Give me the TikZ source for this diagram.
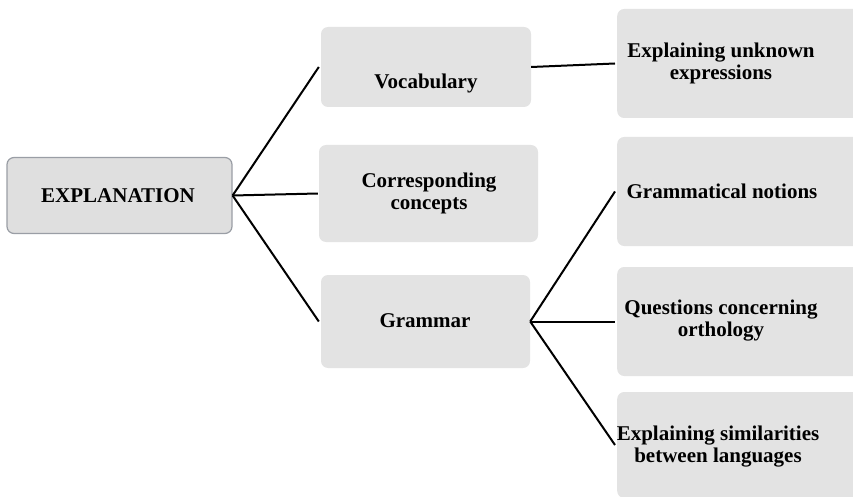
\documentclass[tikz,border=0pt]{standalone}
\usepackage{fontspec}
\setmainfont{Liberation Serif}
\begin{document}
\begin{tikzpicture}[x=1pt,y=-1pt,
  box/.style={draw=none,fill=boxgray,rounded corners=7pt,inner sep=0pt},
  rootbox/.style={draw=rootedge,line width=1.2pt,fill=rootgray,rounded corners=7pt,inner sep=0pt},
  txt/.style={font=\fontsize{21}{22}\selectfont\bfseries,align=center,inner sep=0pt,text=black},
  link/.style={draw=black,line width=2pt}]
\definecolor{boxgray}{HTML}{E3E3E3}
\definecolor{rootgray}{HTML}{DFDFDF}
\definecolor{rootedge}{HTML}{9A9EA5}
\useasboundingbox (0,0) rectangle (853,497);
\clip (0,0) rectangle (853,497);
% boxes
\node[rootbox,minimum width=225pt,minimum height=76pt] (expl) at (119.5,195.5) {};
\node[box,minimum width=210pt,minimum height=80pt] (voc) at (426,67) {};
\node[box,minimum width=219pt,minimum height=97pt] (corr) at (428.5,193.5) {};
\node[box,minimum width=209pt,minimum height=93pt] (gram) at (425.5,321.5) {};
\node[box,minimum width=250pt,minimum height=109pt,anchor=west] (unk) at (617,63.5) {};
\node[box,minimum width=250pt,minimum height=109pt,anchor=west] (notn) at (617,191.5) {};
\node[box,minimum width=250pt,minimum height=109pt,anchor=west] (ques) at (617,321.5) {};
\node[box,minimum width=250pt,minimum height=106pt,anchor=west] (sim) at (617,445) {};
% texts
\node[txt] (texpl) at (118,196) {EXPLANATION};
\node[txt] (tvoc) at (426,83) {Vocabulary};
\node[txt] (tcorr) at (429,193) {Corresponding\\concepts};
\node[txt] (tgram) at (425,321) {Grammar};
\node[txt] (tunk) at (721,63) {Explaining unknown\\expressions};
\node[txt] (tnotn) at (722,191) {Grammatical notions};
\node[txt] (tques) at (721,321) {Questions concerning\\orthology};
\node[txt] (tsim) at (718,447) {Explaining similarities\\between languages};
% connectors
\draw[link] (expl.east) -- ([xshift=-2pt]voc.west);
\draw[link] (expl.east) -- ([xshift=-1pt]corr.west);
\draw[link] (expl.east) -- ([xshift=-2pt]gram.west);
\draw[link] (voc.east) -- ([xshift=-2pt]unk.west);
\draw[link] (gram.east) -- ([xshift=-2pt]notn.west);
\draw[link] (gram.east) -- ([xshift=-2pt]ques.west);
\draw[link] (gram.east) -- ([xshift=-2pt]sim.west);
\end{tikzpicture}
\end{document}
